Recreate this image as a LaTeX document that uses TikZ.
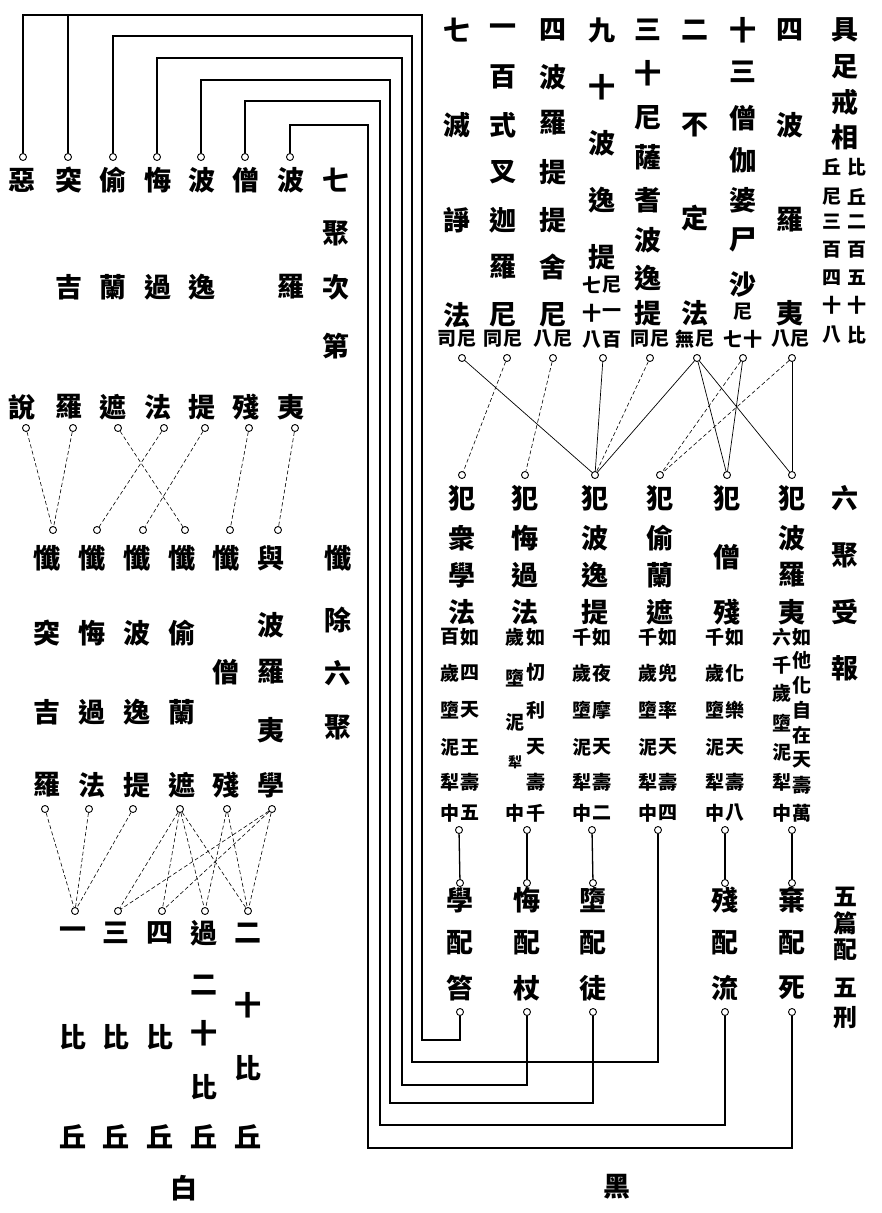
\documentclass[tikz,border=0pt]{standalone}
\usepackage{fontspec}
\newfontfamily\cjk{Noto Sans CJK TC}
\newcommand\bigf{\cjk\bfseries\fontsize{27}{27}\selectfont}
\newcommand\smf{\cjk\bfseries\fontsize{19}{19}\selectfont}
\newcommand\tinyf{\cjk\bfseries\fontsize{14}{14}\selectfont}
\newcommand\midf{\cjk\bfseries\fontsize{24}{24}\selectfont}
\newcommand\mybcol[3]{\foreach \ch/\yy [count=\k] in {#3} {\node[big] (#1-\k) at (#2,\yy) {\ch};}}
\newcommand\myscol[3]{\foreach \ch/\yy [count=\k] in {#3} {\node[sm] (#1-\k) at (#2,\yy) {\ch};}}
\newcommand\myrings[3]{\foreach \xx [count=\k] in {#3} {\node[ring] (#1\k) at (\xx,#2) {};}}
\tikzset{
  big/.style={font=\bigf, inner sep=0pt},
  sm/.style={font=\smf, inner sep=0pt},
  ring/.style={circle, draw, line width=0.9pt, inner sep=0pt, minimum size=7pt, fill=white},
  route/.style={line width=1.1pt},
  solidlink/.style={line width=0.7pt},
  faint/.style={line width=0.6pt, dash pattern=on 4pt off 2.5pt},
  stem/.style={line width=1.3pt},
}
\begin{document}
\begin{tikzpicture}[x=1pt,y=-1pt]
\useasboundingbox (0,0) rectangle (881,1213);

% ---------- seven groups (top left) ----------
\mybcol{ca}{22}{惡/180,說/407}
\mybcol{cb}{69}{突/180,吉/287,羅/407}
\mybcol{cc}{113}{偷/180,蘭/287,遮/407}
\mybcol{cd}{158}{悔/180,過/287,法/407}
\mybcol{ce}{202}{波/180,逸/287,提/407}
\mybcol{cf}{246}{僧/180,殘/407}
\mybcol{cg}{291}{波/180,羅/287,夷/407}
\mybcol{ch}{336}{七/180,聚/233,次/287,第/346}

\myrings{t}{157}{23,68,113,157,201,245,290}
\myrings{w}{428}{26,73,118,164,205,249,295}

% ---------- repentance (middle left) ----------
\mybcol{ma}{47}{懺/558,突/633,吉/712,羅/785}
\mybcol{mb}{92}{懺/558,悔/633,過/712,法/785}
\mybcol{mc}{137}{懺/558,波/633,逸/712,提/785}
\mybcol{md}{182}{懺/558,偷/633,蘭/712,遮/785}
\mybcol{me}{226}{懺/558,僧/672,殘/785}
\mybcol{mf}{271}{與/558,波/625,羅/672,夷/730,學/785}
\mybcol{mg}{338}{懺/558,除/620,六/673,聚/727}

\myrings{x}{530}{53,97,143,185,230,278}
\myrings{y}{809}{45,89,133,180,227,272}

% ---------- monks (bottom left) ----------
\mybcol{ba}{73}{一/933,比/1037,丘/1137}
\mybcol{bb}{116}{三/933,比/1037,丘/1137}
\mybcol{bc}{160}{四/933,比/1037,丘/1137}
\mybcol{bd}{204}{過/933,二/985,十/1033,比/1087,丘/1137}
\mybcol{be}{248}{二/933,十/1005,比/1068,丘/1137}
\node[big] (bai) at (184,1188) {白};
\myrings{z}{911}{75,118,162,205,248}

% ---------- precepts (top right) ----------
\mybcol{ra}{845}{具/30,足/67,戒/102,相/137}
\myscol{rar}{857}{比/167,丘/197,二/222,百/250,五/278,十/305,比/335}
\myscol{ral}{832}{丘/167,尼/197,三/222,百/250,四/278,十/305,八/335}
\mybcol{rb}{790}{四/30,波/125,羅/220,夷/313}
\myscol{rbl}{781}{八/339}
\myscol{rbr}{800}{尼/339}
\mybcol{rc}{743}{十/30,三/72,僧/118,伽/160,婆/200,尸/240,沙/285}
\myscol{rcm}{743}{尼/312}
\myscol{rcl}{733}{七/339}
\myscol{rcr}{753}{十/339}
\mybcol{rd}{695}{二/30,不/125,定/218,法/313}
\myscol{rdl}{685}{無/339}
\myscol{rdr}{705}{尼/339}
\mybcol{re}{648}{三/30,十/73,尼/118,薩/157,耆/200,波/240,逸/278,提/313}
\myscol{rel}{640}{同/339}
\myscol{rer}{660}{尼/339}
\mybcol{rf}{602}{九/30,十/87,波/143,逸/200,提/257}
\myscol{rfl}{592}{七/285,十/313,八/340}
\myscol{rfr}{612}{尼/285,一/313,百/340}
\mybcol{rg}{553}{四/30,波/77,羅/123,提/172,提/220,舍/267,尼/315}
\myscol{rgl}{543}{八/339}
\myscol{rgr}{563}{尼/339}
\mybcol{rh}{503}{一/30,百/77,式/125,叉/172,迦/220,羅/267,尼/315}
\myscol{rhl}{493}{同/339}
\myscol{rhr}{513}{尼/339}
\mybcol{ri}{457}{七/30,滅/125,諍/220,法/315}
\myscol{ril}{447}{司/339}
\myscol{rir}{467}{尼/339}

\myrings{u}{358}{462,507,553,603,650,697,743,792}
\myrings{v}{475}{462,525,595,660,727,792}

% ---------- offences (right middle) ----------
\mybcol{fa}{462}{犯/498,衆/538,學/575,法/612}
\mybcol{fb}{525}{犯/498,悔/538,過/575,法/612}
\mybcol{fc}{595}{犯/498,波/538,逸/575,提/612}
\mybcol{fd}{660}{犯/498,偷/538,蘭/575,遮/612}
\mybcol{fe}{727}{犯/498,僧/557,殘/612}
\mybcol{ff}{792}{犯/498,波/538,羅/575,夷/612}
\mybcol{fg}{845}{六/498,聚/555,受/612,報/668}

\myscol{nar}{470}{如/637,四/673,天/710,王/747,壽/782,五/813}
\myscol{nal}{450}{百/637,歲/673,墮/710,泥/747,犁/782,中/813}
\myscol{nbr}{536}{如/637,忉/672,利/710,天/747,壽/782,千/813}
\myscol{nbl}{515}{歲/637,墮/678,泥/722,中/813}
\node[font=\tinyf, inner sep=0pt] (nbs) at (515,762) {犁};
\myscol{ncr}{602}{如/637,夜/673,摩/710,天/747,壽/782,二/813}
\myscol{ncl}{582}{千/637,歲/673,墮/710,泥/747,犁/782,中/813}
\myscol{ndr}{668}{如/637,兜/673,率/710,天/747,壽/782,四/813}
\myscol{ndl}{648}{千/637,歲/673,墮/710,泥/747,犁/782,中/813}
\myscol{ner}{735}{如/637,化/673,樂/710,天/747,壽/782,八/813}
\myscol{nel}{715}{千/637,歲/673,墮/710,泥/747,犁/782,中/813}
\myscol{nfr}{802}{如/637,他/660,化/685,自/710,在/735,天/760,壽/785,萬/813}
\myscol{nfl}{782}{六/637,千/665,歲/693,墮/723,泥/752,犁/782,中/813}

\myrings{s}{830}{459,527,592,658,725,792}
\myrings{r}{883}{460,527,593,725,792}

% ---------- punishments (bottom right) ----------
\mybcol{pa}{460}{學/900,配/943,笞/988}
\mybcol{pb}{527}{悔/900,配/943,杖/988}
\mybcol{pc}{593}{墮/900,配/943,徒/988}
\mybcol{pd}{725}{殘/900,配/943,流/988}
\mybcol{pe}{792}{棄/900,配/943,死/988}
\node[font=\midf, inner sep=0pt] (pf1) at (845,897) {五};
\node[font=\midf, inner sep=0pt] (pf2) at (845,923) {篇};
\node[font=\midf, inner sep=0pt] (pf3) at (845,950) {配};
\node[font=\midf, inner sep=0pt] (pf4) at (845,988) {五};
\node[font=\midf, inner sep=0pt] (pf5) at (845,1018) {刑};
\node[big] (hei) at (617,1187) {黑};
\myrings{q}{1012}{460,527,593,725,792}

% ---------- long routes ----------
\coordinate (k1) at (422,15);   \coordinate (h1) at (460,1040);
\coordinate (k2) at (412,36);   \coordinate (h2) at (658,1062);
\coordinate (k3) at (402,58);   \coordinate (h3) at (527,1085);
\coordinate (k4) at (390,80);   \coordinate (h4) at (593,1103);
\coordinate (k5) at (380,101);  \coordinate (h5) at (725,1125);
\coordinate (k6) at (368,125);  \coordinate (h6) at (792,1148);
\draw[route] (t1) |- (k1) |- (h1) -- (q1);
\draw[route] (t2) -- (t2 |- k1);
\draw[route] (t3) |- (k2) |- (h2) -- (s4);
\draw[route] (t4) |- (k3) |- (h3) -- (q2);
\draw[route] (t5) |- (k4) |- (h4) -- (q3);
\draw[route] (t6) |- (k5) |- (h5) -- (q4);
\draw[route] (t7) |- (k6) |- (h6) -- (q5);

% ---------- stems ----------
\draw[stem] (s1) -- (r1);
\draw[stem] (s2) -- (r2);
\draw[stem] (s3) -- (r3);
\draw[stem] (s5) -- (r4);
\draw[stem] (s6) -- (r5);

% ---------- precepts to offences ----------
\draw[solidlink] (u1) -- (v3);
\draw[faint] (u2) -- (v1);
\draw[faint] (u3) -- (v2);
\draw[solidlink] (u4) -- (v3);
\draw[faint] (u5) -- (v3);
\draw[solidlink] (u6) -- (v3);
\draw[solidlink] (u6) -- (v5);
\draw[solidlink] (u6) -- (v6);
\draw[solidlink] (u7) -- (v5);
\draw[faint] (u7) -- (v4);
\draw[solidlink] (u8) -- (v6);
\draw[faint] (u8) -- (v4);

% ---------- groups to repentance ----------
\draw[faint] (w1) -- (x1);
\draw[faint] (w2) -- (x1);
\draw[faint] (w3) -- (x4);
\draw[faint] (w4) -- (x2);
\draw[faint] (w5) -- (x3);
\draw[faint] (w6) -- (x5);
\draw[faint] (w7) -- (x6);

% ---------- repentance to monks ----------
\draw[faint] (y1) -- (z1);
\draw[faint] (y2) -- (z1);
\draw[faint] (y3) -- (z1);
\draw[faint] (y4) -- (z2);
\draw[faint] (y4) -- (z3);
\draw[faint] (y4) -- (z4);
\draw[faint] (y4) -- (z5);
\draw[faint] (y5) -- (z4);
\draw[faint] (y5) -- (z5);
\draw[faint] (y6) -- (z2);
\draw[faint] (y6) -- (z3);
\draw[faint] (y6) -- (z5);
\end{tikzpicture}
\end{document}
